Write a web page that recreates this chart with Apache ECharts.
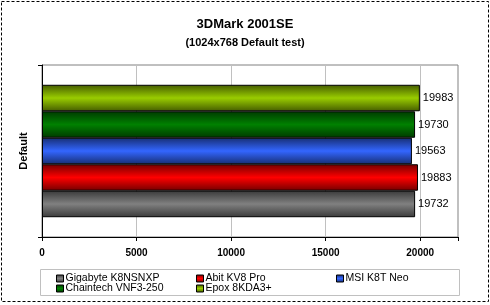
<!DOCTYPE html>
<html><head><meta charset="utf-8">
<script src="https://cdn.jsdelivr.net/npm/echarts@6/dist/echarts.min.js"></script>
<style>html,body{margin:0;padding:0;background:#fff}#c{width:490px;height:305px}</style>
</head><body><div id="c"></div>
<script>
const categories = ['Default'];
const seriesNames = ['Gigabyte K8NSNXP', 'Abit KV8 Pro', 'MSI K8T Neo', 'Chaintech VNF3-250', 'Epox 8KDA3+'];
const seriesValues = [19732, 19883, 19563, 19730, 19983];
const xTicks = [0, 5000, 10000, 15000, 20000];
const colors = ['#808080', '#FF0000', '#3366FF', '#008000', '#99CC00'];

function shade(hex, f) {
  const n = parseInt(hex.slice(1), 16);
  let r = (n >> 16) & 255, g = (n >> 8) & 255, b = n & 255;
  r = Math.round(r * f); g = Math.round(g * f); b = Math.round(b * f);
  return 'rgb(' + r + ',' + g + ',' + b + ')';
}
function grad(c) {
  return new echarts.graphic.LinearGradient(0, 0, 0, 1, [
    {offset: 0, color: shade(c, 0.45)},
    {offset: 0.5, color: c},
    {offset: 1, color: shade(c, 0.45)}
  ]);
}
const chart = echarts.init(document.getElementById('c'), null, {renderer: 'canvas'});
const font = 'Liberation Sans, Arial, sans-serif';
// ECharts draws the first series of a horizontal bar group at the top; the reference shows Epox on top
const order = [4, 3, 2, 1, 0];
const series = order.map(i => ({
  name: seriesNames[i], type: 'bar', data: [seriesValues[i]],
  barGap: '0%', barCategoryGap: '23%',
  itemStyle: {color: grad(colors[i]), borderColor: '#000', borderWidth: 1},
  label: {show: true, position: 'right', distance: 3, color: '#000', fontFamily: font, fontSize: 11},
  animation: false
}));
const legendCommon = {
  orient: 'horizontal', itemWidth: 7, itemHeight: 7, itemGap: 0,
  icon: 'rect', textStyle: {fontFamily: font, fontSize: 10.5, color: '#000', padding: [0,0,0,-3]},
  itemStyle: {borderColor: '#000', borderWidth: 1}, selectedMode: false, padding: 0
};
const legendPos = [[56, 273], [196, 273], [336, 273], [56, 283], [196, 283]];
chart.setOption({
  animation: false,
  title: [
    {text: '3DMark 2001SE', left: 'center', top: 13, textStyle: {fontFamily: font, fontSize: 13, fontWeight: 'bold', color: '#000'}},
    {text: '(1024x768 Default test)', left: 'center', top: 32, textStyle: {fontFamily: font, fontSize: 11, fontWeight: 'bold', color: '#000'}}
  ],
  grid: {left: 42, right: 32, top: 65, bottom: 68, show: true, borderColor: '#808080', borderWidth: 1, backgroundColor: 'transparent'},
  xAxis: {
    type: 'value', min: 0, max: 22000, interval: 5000,
    axisLine: {show: true, lineStyle: {color: '#000'}},
    axisTick: {show: true, length: 4, lineStyle: {color: '#000'}},
    splitLine: {show: true, lineStyle: {color: '#C0C0C0'}},
    axisLabel: {fontFamily: font, fontSize: 10, fontWeight: 'bold', color: '#000', margin: 11,
      formatter: v => xTicks.includes(v) ? String(v) : ''}
  },
  yAxis: {
    type: 'category', data: categories,
    axisLine: {show: true, lineStyle: {color: '#000'}},
    axisTick: {show: true, length: 4, lineStyle: {color: '#000'}},
    axisLabel: {show: false},
    name: 'Default', nameLocation: 'middle', nameGap: 13, nameRotate: 90,
    nameTextStyle: {fontFamily: font, fontSize: 11, fontWeight: 'bold', color: '#000'}
  },
  legend: seriesNames.map((n, i) => Object.assign({}, legendCommon, {left: legendPos[i][0], top: legendPos[i][1], data: [n]})),
  graphic: [
    {type: 'rect', shape: {x: 1.5, y: 1.5, width: 487, height: 300}, style: {fill: 'none', stroke: '#000', lineWidth: 1, lineDash: [3, 2]}, z: -1},
    {type: 'rect', shape: {x: 40.5, y: 269.5, width: 419, height: 26}, style: {fill: 'none', stroke: '#C0C0C0', lineWidth: 1}, z: -1}
  ],
  series: series
});
</script></body></html>
